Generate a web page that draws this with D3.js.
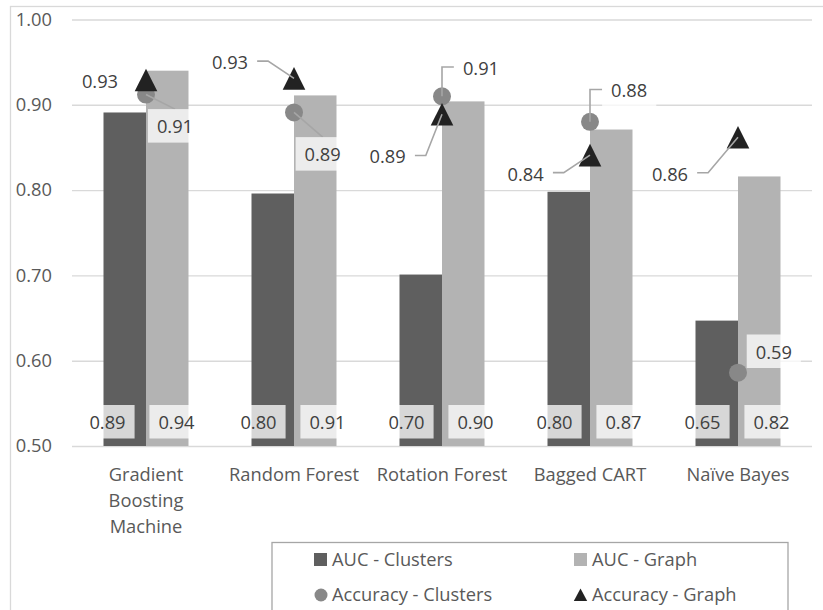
<!DOCTYPE html>
<html><head><meta charset="utf-8">
<script src="https://cdn.jsdelivr.net/npm/d3@7"></script>
<style>
html,body{margin:0;padding:0;background:#fff;}
svg{display:block;}
</style></head><body>
<svg id="chart" width="823" height="610"></svg>
<script>
// ---------- DATA ----------
const categories = ["Gradient Boosting Machine","Random Forest","Rotation Forest","Bagged CART","Naïve Bayes"];
const seriesNames = ["AUC - Clusters","AUC - Graph","Accuracy - Clusters","Accuracy - Graph"];
const aucClusters = [0.891,0.796,0.701,0.798,0.647];
const aucGraph    = [0.940,0.911,0.904,0.871,0.816];
const accClusters = [0.912,0.891,0.910,0.880,0.586];
const accGraph    = [0.929,0.931,0.889,0.841,0.862];
const yTicks = [0.50,0.60,0.70,0.80,0.90,1.00];

// ---------- LAYOUT (not data) ----------
const FONT = "'Open Sans', Lato, sans-serif";
const FS = 18.3;
const plot = {left:72, right:812, top:19.5, bottom:446};
const colors = {aucC:"#5f5f5f", aucG:"#b3b3b3", accC:"#888888", accG:"#222222", grid:"#d9d9d9", text:"#595959", label:"#404040", leader:"#a6a6a6"};
// label offsets relative to marker centre (px) and leader style
const accClustersLabelLayout = [
  {dx:29, dy:32.3, leader:"top"},
  {dx:28.7, dy:42.4, leader:"top"},
  {dx:39, dy:-27.8, leader:"vert"},
  {dx:39.2, dy:-30.9, leader:"vert"},
  {dx:35.8, dy:-20.4, leader:"none"}
];
const accGraphLabelLayout = [
  {dx:-46, dy:1.7, leader:"none"},
  {dx:-64, dy:-15.7, leader:"horiz"},
  {dx:-54.3, dy:42.8, leader:"horiz"},
  {dx:-64.3, dy:19, leader:"horiz"},
  {dx:-68, dy:37, leader:"horiz"}
];
const barLabelShift = [-3,0,0,0,0];

const svg = d3.select("#chart").style("font-family", FONT);

// outer border
svg.append("rect").attr("x",10.5).attr("y",6.5).attr("width",840).attr("height",640)
  .attr("fill","none").attr("stroke","#d9d9d9").attr("stroke-width",1.3);

const x0 = d3.scaleBand().domain(categories).range([plot.left, plot.right]).padding(0);
const groupW = 85;
const x1 = d3.scaleBand().domain(["AUC - Clusters","AUC - Graph"]).range([0, groupW]);
const cx = c => x0(c) + x0.bandwidth()/2;
const y = d3.scaleLinear().domain([0.5, 1.0]).range([plot.bottom, plot.top]);
const fmt = d3.format(".2f");

// axis & gridlines
const gAxis = svg.append("g").attr("transform",`translate(${plot.left},0)`)
  .call(d3.axisLeft(y).tickValues(yTicks).tickFormat(fmt)
        .tickSize(-(plot.right-plot.left)).tickPadding(20));
gAxis.attr("font-family", FONT).attr("font-size", FS);
gAxis.select(".domain").remove();
gAxis.selectAll(".tick line").attr("stroke", colors.grid).attr("stroke-width", 1.4);
gAxis.selectAll(".tick text").attr("fill", colors.text);

// bars
const barSeries = [
  {name:"AUC - Clusters", values:aucClusters, color:colors.aucC, lx:-35.5},
  {name:"AUC - Graph", values:aucGraph, color:colors.aucG, lx:33.5}
];
const gBars = svg.append("g");
barSeries.forEach(s => {
  gBars.selectAll(null).data(categories).enter().append("rect")
    .attr("x", c => x0(c) + (x0.bandwidth()-groupW)/2 + x1(s.name))
    .attr("width", x1.bandwidth())
    .attr("y", (c,i) => y(s.values[i]))
    .attr("height", (c,i) => plot.bottom - y(s.values[i]))
    .attr("fill", s.color);
});

// bar labels (inside base)
const gBarLabels = svg.append("g");
barSeries.forEach(s => {
  categories.forEach((c,i) => {
    const tx = cx(c) + s.lx + barLabelShift[i];
    const ty = y(0.5) - 23;
    const g = gBarLabels.append("g");
    const t = g.append("text").attr("x", tx).attr("y", ty).attr("dy","0.35em")
      .attr("text-anchor","middle").attr("font-size",FS).attr("fill",colors.label)
      .text(fmt(s.values[i]));
    const w = t.node().getComputedTextLength() + 18;
    g.insert("rect","text").attr("x", tx - w/2).attr("y", ty - 18).attr("width", w).attr("height", 33.5)
      .attr("fill","#fff").attr("fill-opacity",0.75);
  });
});

// markers
const gMarks = svg.append("g");
gMarks.selectAll(null).data(categories).enter().append("circle")
  .attr("cx", c => cx(c)).attr("cy", (c,i) => y(accClusters[i])).attr("r", 9)
  .attr("fill", colors.accC);
const tri = "M0,-11.3L11.3,11.3L-11.3,11.3Z";
gMarks.selectAll(null).data(categories).enter().append("path")
  .attr("d", tri).attr("transform", (c,i) => `translate(${cx(c)},${y(accGraph[i])})`)
  .attr("fill", colors.accG);

// point labels with leader lines
const gLead = svg.append("g");
const gPL = svg.append("g");
function pointLabels(values, layout) {
  categories.forEach((c,i) => {
    const mx = cx(c), my = y(values[i]);
    const L = layout[i];
    const tx = mx + L.dx, ty = my + L.dy;
    const g = gPL.append("g");
    const t = g.append("text").attr("x", tx).attr("y", ty).attr("dy","0.35em")
      .attr("text-anchor","middle").attr("font-size",FS).attr("fill",colors.label)
      .text(fmt(values[i]));
    const w = t.node().getComputedTextLength() + 18, h = 33.5;
    g.insert("rect","text").attr("x", tx - w/2).attr("y", ty - h/2 - 1).attr("width", w).attr("height", h)
      .attr("fill","#fff").attr("fill-opacity",0.75);
    let d = null;
    if (L.leader === "top") d = `M${mx},${my}L${tx},${ty - h/2 - 1}`;
    else if (L.leader === "vert") d = `M${mx},${my}V${ty-1.5}H${tx - w/2}`;
    else if (L.leader === "horiz") d = `M${tx + w/2},${ty-1.5}H${tx + w/2 + 11}L${mx},${my}`;
    if (d) gLead.append("path").attr("d", d).attr("fill","none")
      .attr("stroke", colors.leader).attr("stroke-width", 1.6);
  });
}
pointLabels(accClusters, accClustersLabelLayout);
pointLabels(accGraph, accGraphLabelLayout);

// category labels (wrapped)
const gX = svg.append("g");
categories.forEach(c => {
  const words = c.split(" ");
  const t = gX.append("text").attr("text-anchor","middle").attr("font-size",FS).attr("fill",colors.text);
  let lines = [], cur = [];
  words.forEach(wd => {
    const trial = cur.concat([wd]).join(" ");
    t.text(trial);
    if (t.node().getComputedTextLength() > 140 && cur.length) { lines.push(cur.join(" ")); cur = [wd]; }
    else cur.push(wd);
  });
  lines.push(cur.join(" "));
  t.text(null);
  lines.forEach((ln, k) => {
    t.append("tspan").attr("x", cx(c)).attr("y", 475 + k*25.7).attr("dy","0.35em").text(ln);
  });
});

// legend
const gL = svg.append("g");
gL.append("rect").attr("x",272).attr("y",542.5).attr("width",516).attr("height",120)
  .attr("fill","#fff").attr("stroke","#a6a6a6").attr("stroke-width",1.3);
const legendItems = [
  {name:seriesNames[0], shape:"square", color:colors.aucC, x:314, y:559.5},
  {name:seriesNames[1], shape:"square", color:colors.aucG, x:574, y:559.5},
  {name:seriesNames[2], shape:"circle", color:colors.accC, x:314, y:595},
  {name:seriesNames[3], shape:"triangle", color:colors.accG, x:574, y:595}
];
legendItems.forEach(it => {
  if (it.shape === "square") gL.append("rect").attr("x", it.x).attr("y", it.y - 6.5).attr("width",13).attr("height",13).attr("fill", it.color);
  else if (it.shape === "circle") gL.append("circle").attr("cx", it.x + 7).attr("cy", it.y).attr("r", 6.5).attr("fill", it.color);
  else gL.append("path").attr("d","M0,-6.5L6.7,6L-6.7,6Z").attr("transform",`translate(${it.x+6.5},${it.y})`).attr("fill", it.color);
  gL.append("text").attr("x", it.x + 18).attr("y", it.y).attr("dy","0.35em").attr("font-size",FS)
    .attr("fill",colors.text).text(it.name);
});
</script>
</body></html>
